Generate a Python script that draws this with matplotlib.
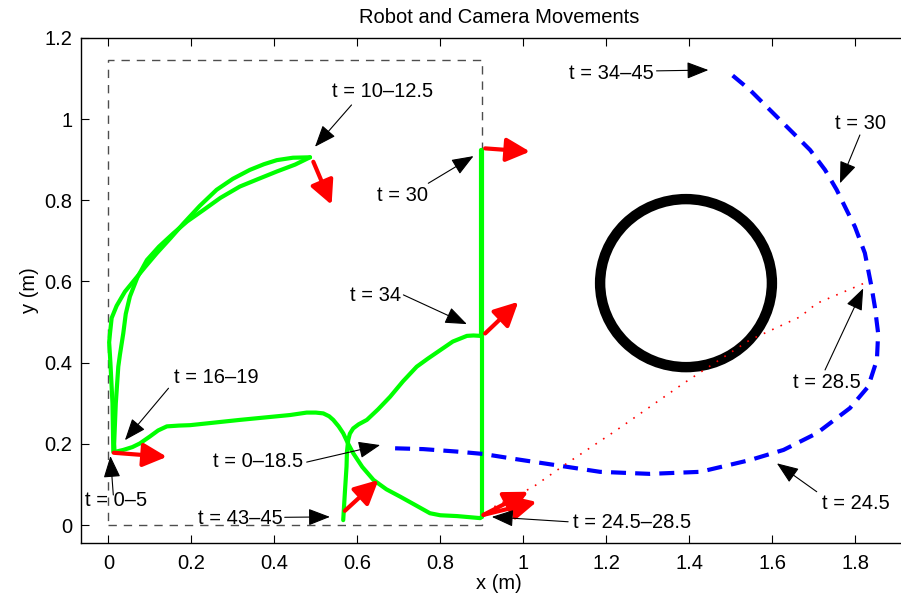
import matplotlib
matplotlib.use('Agg')
import matplotlib.pyplot as plt
from matplotlib.patches import Circle

plt.rcParams['font.family'] = ['Liberation Sans', 'DejaVu Sans']

# robot path (green)
go_up_x = [0.012, 0.010, 0.005, 0.002, 0.004, 0.008, 0.020, 0.040, 0.060, 0.088, 0.117, 0.150,
           0.181, 0.220, 0.261, 0.300, 0.341, 0.375, 0.406, 0.445, 0.486]
go_up_y = [0.180, 0.300, 0.400, 0.450, 0.472, 0.510, 0.540, 0.575, 0.600, 0.635, 0.670, 0.707,
           0.743, 0.786, 0.826, 0.853, 0.875, 0.889, 0.899, 0.905, 0.906]
back_x = [0.486, 0.450, 0.406, 0.360, 0.317, 0.270, 0.229, 0.190, 0.157, 0.122, 0.093, 0.070,
          0.052, 0.042, 0.036, 0.028, 0.024, 0.018, 0.014, 0.015]
back_y = [0.906, 0.888, 0.871, 0.852, 0.834, 0.806, 0.776, 0.748, 0.719, 0.686, 0.653, 0.610,
          0.563, 0.520, 0.472, 0.420, 0.390, 0.300, 0.200, 0.180]
bottom_x = [0.015, 0.036, 0.058, 0.076, 0.100, 0.120, 0.141, 0.170, 0.197, 0.317, 0.438, 0.478,
            0.500, 0.518, 0.532, 0.542, 0.555, 0.566, 0.578, 0.590, 0.612, 0.639, 0.670, 0.703,
            0.740, 0.775, 0.800, 0.840, 0.896, 0.900]
bottom_y = [0.180, 0.185, 0.192, 0.201, 0.218, 0.233, 0.243, 0.245, 0.246, 0.259, 0.271, 0.277,
            0.277, 0.275, 0.268, 0.259, 0.243, 0.226, 0.200, 0.177, 0.143, 0.111, 0.088, 0.070,
            0.049, 0.029, 0.024, 0.022, 0.017, 0.020]
vert_x = [0.900, 0.900, 0.897, 0.897]
vert_y = [0.020, 0.925, 0.925, 0.466]
last_x = [0.897, 0.880, 0.864, 0.830, 0.800, 0.770, 0.743, 0.710, 0.679, 0.650, 0.623, 0.603,
          0.590, 0.582, 0.578, 0.575, 0.574, 0.570, 0.566]
last_y = [0.466, 0.467, 0.466, 0.452, 0.431, 0.410, 0.390, 0.354, 0.316, 0.285, 0.259, 0.248,
          0.238, 0.225, 0.209, 0.180, 0.144, 0.080, 0.012]

# camera path (blue dashed)
cam_x = [0.691, 0.759, 0.839, 0.904, 0.984, 1.088, 1.185, 1.305, 1.426, 1.546, 1.627, 1.707,
         1.787, 1.831, 1.852, 1.855, 1.847, 1.839, 1.823, 1.799, 1.779, 1.755, 1.727, 1.691,
         1.651, 1.594, 1.546, 1.498]
cam_y = [0.189, 0.187, 0.181, 0.175, 0.162, 0.146, 0.131, 0.126, 0.131, 0.160, 0.185, 0.226,
         0.288, 0.341, 0.407, 0.472, 0.538, 0.587, 0.670, 0.735, 0.776, 0.826, 0.875, 0.924,
         0.965, 1.023, 1.072, 1.113]

# line of sight at t = 28.5 (red dotted)
sight_x = [0.930, 1.024, 1.105, 1.225, 1.386, 1.546, 1.667, 1.707, 1.831]
sight_y = [0.045, 0.094, 0.152, 0.234, 0.349, 0.456, 0.513, 0.546, 0.600]

# robot heading arrows: (x0, y0, x1, y1)
headings = [(0.013, 0.178, 0.141, 0.168),
            (0.494, 0.895, 0.538, 0.789),
            (0.908, 0.928, 1.016, 0.920),
            (0.908, 0.472, 0.988, 0.550),
            (0.570, 0.035, 0.651, 0.111),
            (0.904, 0.025, 1.032, 0.057),
            (0.904, 0.025, 1.012, 0.082)]

# obstacle
obst_center = (1.392, 0.596)
obst_radius = 0.207

# box
box_x = [0, 0.9, 0.9, 0, 0]
box_y = [0, 0, 1.146, 1.146, 0]

# labels: text, text centre, arrow tail, arrow tip
notes = [("t = 10\u201312.5", (0.66, 1.067), (0.586, 1.035), (0.498, 0.932)),
         ("t = 30", (0.709, 0.813), (0.771, 0.842), (0.880, 0.909)),
         ("t = 34", (0.644, 0.566), (0.711, 0.567), (0.864, 0.495)),
         ("t = 16\u201319", (0.26, 0.363), (0.145, 0.337), (0.040, 0.209)),
         ("t = 0\u20135", (0.018, 0.060), (0.012, 0.074), (0.005, 0.170)),
         ("t = 43\u201345", (0.318, 0.017), (0.425, 0.019), (0.534, 0.020)),
         ("t = 0\u201318.5", (0.361, 0.156), (0.478, 0.155), (0.655, 0.197)),
         ("t = 24.5\u201328.5", (1.263, 0.006), (1.108, 0.008), (0.924, 0.020)),
         ("t = 24.5", (1.801, 0.053), (1.707, 0.082), (1.611, 0.152)),
         ("t = 28.5", (1.731, 0.351), (1.727, 0.382), (1.819, 0.583)),
         ("t = 30", (1.813, 0.990), (1.811, 0.961), (1.763, 0.842)),
         ("t = 34\u201345", (1.211, 1.113), (1.321, 1.119), (1.446, 1.121))]

fig = plt.figure(figsize=(9.01, 6.01), dpi=100)
ax = fig.add_axes([0.0896, 0.097, 0.9288, 0.8398])

ax.plot(box_x, box_y, '--', color='0.3', lw=1, dashes=(6, 5))
ax.add_patch(Circle(obst_center, obst_radius, fill=False, ec='k', lw=7.5))

for xs, ys in [(go_up_x, go_up_y), (back_x, back_y), (bottom_x, bottom_y),
               (vert_x, vert_y), (last_x, last_y)]:
    ax.plot(xs, ys, color='#00ff00', lw=3, solid_joinstyle='round', solid_capstyle='round')

ax.plot(cam_x, cam_y, '--', color='#0000ff', lw=3, dashes=(3.6, 2.2))
ax.plot(sight_x, sight_y, color='red', lw=1.2, linestyle=(0, (1, 4.5)))

for x0, y0, x1, y1 in headings:
    ax.annotate('', xy=(x1, y1), xytext=(x0, y0),
                arrowprops=dict(arrowstyle='-|>,head_length=0.9,head_width=0.45',
                                color='red', lw=3, mutation_scale=16,
                                shrinkA=0, shrinkB=0))

for txt, pos, tail, tip in notes:
    ax.text(pos[0], pos[1], txt, ha='center', va='center', fontsize=14.5)
    ax.annotate('', xy=tip, xytext=tail,
                arrowprops=dict(arrowstyle='-|>,head_length=0.9,head_width=0.35',
                                color='k', lw=0.8, mutation_scale=15,
                                shrinkA=0, shrinkB=0))

ax.set_xlim(-0.0665, 1.95)
ax.set_ylim(-0.0436, 1.2)
ax.set_xticks([0, 0.2, 0.4, 0.6, 0.8, 1, 1.2, 1.4, 1.6, 1.8])
ax.set_xticklabels(['0', '0.2', '0.4', '0.6', '0.8', '1', '1.2', '1.4', '1.6', '1.8'])
ax.set_yticks([0, 0.2, 0.4, 0.6, 0.8, 1, 1.2])
ax.set_yticklabels(['0', '0.2', '0.4', '0.6', '0.8', '1', '1.2'])
ax.tick_params(direction='in', length=6, width=0.8, top=True, right=True,
               labelsize=14.5)
ax.tick_params(axis='x', pad=8)
ax.tick_params(axis='y', pad=6)
for s in ax.spines.values():
    s.set_linewidth(1)
ax.set_xlabel('x (m)', fontsize=14.5, labelpad=1)
ax.set_ylabel('y (m)', fontsize=14.5, labelpad=4)
ax.set_title('Robot and Camera Movements', fontsize=14.5, pad=11)

fig.savefig('out.png', dpi=100)
